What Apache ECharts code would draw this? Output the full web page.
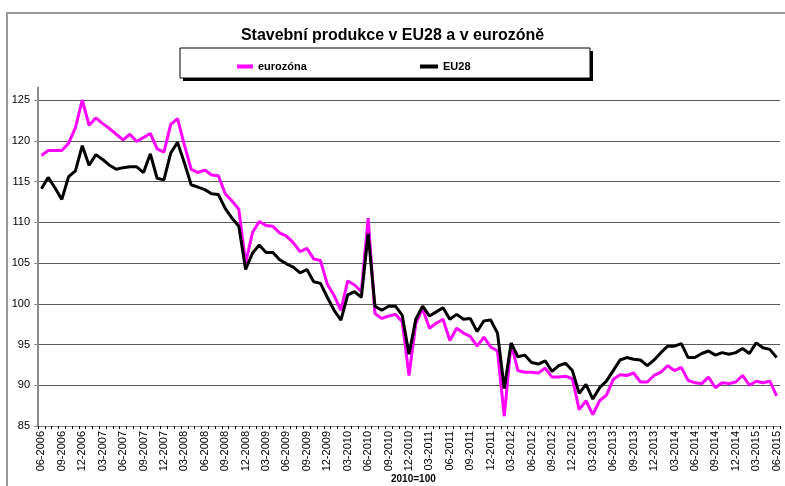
<!DOCTYPE html>
<html>
<head>
<meta charset="utf-8">
<script src="https://cdn.jsdelivr.net/npm/echarts@6/dist/echarts.min.js"></script>
<style>
  html, body { margin: 0; padding: 0; background: #fff; }
  #chart-one { width: 785px; height: 486px; }
</style>
</head>
<body>
<div id="chart-one"></div>
<script>
// months 06-2006 .. 06-2015
let months = [];
for (let y = 2006; y <= 2015; y++) {
    for (let m = 1; m <= 12; m++) {
        if ((y === 2006 && m < 6) || (y === 2015 && m > 6)) continue;
        months.push((m < 10 ? '0' + m : '' + m) + '-' + y);
    }
}

let eurozona = [
    118.2, 118.8, 118.8, 118.8, 119.7, 121.6, 125.0, 121.9, 122.8, 122.1,
    121.5, 120.8, 120.1, 120.8, 119.9, 120.4, 120.9, 119.0, 118.6, 122.0,
    122.7, 119.5, 116.5, 116.1, 116.4, 115.8, 115.7, 113.5, 112.6, 111.6,
    105.0, 108.7, 110.1, 109.6, 109.5, 108.7, 108.3, 107.5, 106.4, 106.8,
    105.5, 105.3, 102.4, 101.0, 99.2, 102.8, 102.3, 101.5, 110.5, 98.8,
    98.2, 98.5, 98.7, 97.8, 91.2, 97.6, 99.4, 97.0, 97.6, 98.1,
    95.5, 97.0, 96.4, 96.0, 94.8, 95.9, 94.7, 94.2, 86.2, 95.1,
    91.8, 91.6, 91.6, 91.5, 92.1, 91.0, 91.0, 91.1, 90.8, 87.0,
    88.1, 86.4, 88.1, 88.8, 90.7, 91.3, 91.2, 91.5, 90.4, 90.4,
    91.2, 91.6, 92.4, 91.8, 92.2, 90.6, 90.3, 90.2, 91.0, 89.7,
    90.3, 90.2, 90.4, 91.2, 90.0, 90.5, 90.3, 90.5, 88.7
];

let eu28 = [
    114.1, 115.5, 114.2, 112.8, 115.6, 116.3, 119.4, 117.0, 118.3, 117.7,
    117.0, 116.5, 116.7, 116.8, 116.8, 116.1, 118.4, 115.4, 115.2, 118.5,
    119.8, 117.3, 114.6, 114.3, 114.0, 113.5, 113.4, 111.7, 110.5, 109.5,
    104.2, 106.2, 107.2, 106.3, 106.3, 105.4, 104.9, 104.5, 103.8, 104.2,
    102.7, 102.5, 100.8, 99.2, 98.0, 101.1, 101.5, 100.8, 108.6, 99.7,
    99.2, 99.7, 99.7, 98.6, 93.8, 98.1, 99.7, 98.5, 99.0, 99.5,
    98.1, 98.7, 98.1, 98.2, 96.6, 97.9, 98.0, 96.4, 89.6, 95.2,
    93.5, 93.7, 92.8, 92.6, 93.0, 91.7, 92.4, 92.7, 91.8, 89.0,
    90.1, 88.3, 89.7, 90.5, 91.8, 93.1, 93.4, 93.2, 93.1, 92.4,
    93.1, 94.0, 94.8, 94.8, 95.1, 93.4, 93.4, 93.9, 94.2, 93.7,
    94.0, 93.8, 94.0, 94.5, 93.9, 95.2, 94.6, 94.4, 93.4
];

let yTicks = [85, 125, 5]; // min, max, step

let font = 'Liberation Sans, Arial, sans-serif';

let myChart = echarts.init(document.getElementById('chart-one'));

let option = {
    animation: false,
    title: {
        text: 'Stavební produkce v EU28 a v eurozóně',
        left: 'center',
        top: 23,
        textStyle: { fontFamily: font, fontSize: 16, fontWeight: 'bold', color: '#000' }
    },
    legend: [
        {
            data: ['eurozóna'],
            left: 232, top: 56,
            icon: 'rect', itemWidth: 16, itemHeight: 4, itemGap: 8,
            textStyle: { fontFamily: font, fontSize: 11, fontWeight: 'bold', color: '#000' }
        },
        {
            data: ['EU28'],
            left: 415, top: 56,
            icon: 'rect', itemWidth: 18, itemHeight: 4, itemGap: 8,
            textStyle: { fontFamily: font, fontSize: 11, fontWeight: 'bold', color: '#000' }
        }
    ],
    graphic: [
        { type: 'rect', z: -10, shape: { x: 7, y: 13, width: 800, height: 500 },
          style: { fill: '#fff', stroke: '#9a9a9a', lineWidth: 2 } },
        { type: 'rect', z: -5, shape: { x: 183, y: 51, width: 410, height: 30 },
          style: { fill: '#000' } },
        { type: 'rect', z: -4, shape: { x: 180, y: 48, width: 410, height: 30 },
          style: { fill: '#fff', stroke: '#000', lineWidth: 1 } },
        { type: 'line', shape: { x1: 38, y1: 87, x2: 38, y2: 100 },
          style: { stroke: '#8a8a8a', lineWidth: 2 } },
        { type: 'text', left: 391, top: 474,
          style: { text: '2010=100', fontFamily: font, fontSize: 10, fontWeight: 'bold', fill: '#000' } }
    ],
    grid: { left: 38, right: 5, top: 100, bottom: 60 },
    xAxis: {
        type: 'category',
        data: months,
        boundaryGap: true,
        axisLine: { lineStyle: { color: '#8a8a8a', width: 1 } },
        axisTick: { show: true, interval: 0, length: 3, lineStyle: { color: '#000' } },
        axisLabel: {
            interval: 2, rotate: 90, margin: 5,
            fontFamily: font, fontSize: 11, color: '#000'
        },
        splitLine: { show: false }
    },
    yAxis: {
        type: 'value',
        min: yTicks[0], max: yTicks[1], interval: yTicks[2],
        axisLine: { show: true, lineStyle: { color: '#8a8a8a', width: 2 } },
        axisTick: { show: true, length: 4, lineStyle: { color: '#8a8a8a' } },
        axisLabel: { margin: 8, fontFamily: font, fontSize: 11, color: '#000' },
        splitLine: { lineStyle: { color: '#5a5a5a', width: 1 } }
    },
    series: [
        {
            name: 'eurozóna',
            type: 'line',
            data: eurozona,
            symbol: 'none',
            color: '#ff00ff',
            lineStyle: { width: 3, color: '#ff00ff' }
        },
        {
            name: 'EU28',
            type: 'line',
            data: eu28,
            symbol: 'none',
            color: '#000',
            lineStyle: { width: 3, color: '#000' }
        }
    ]
};

myChart.setOption(option);
</script>
</body>
</html>
